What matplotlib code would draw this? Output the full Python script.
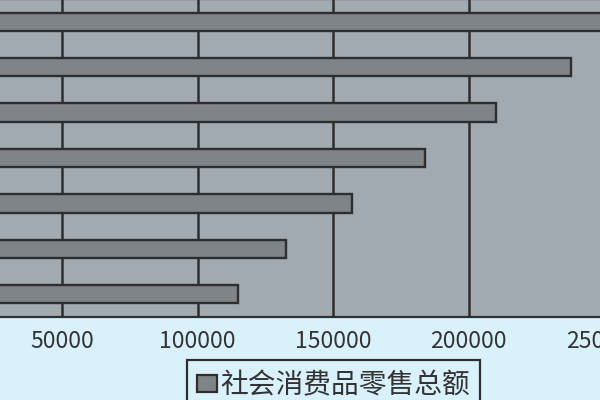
import matplotlib
matplotlib.use("Agg")
import matplotlib.pyplot as plt
from matplotlib.patches import Patch

plt.rcParams['font.family'] = ['Noto Sans CJK SC', 'DejaVu Sans']

years = ['2008', '2009', '2010', '2011', '2012', '2013', '2014']
retail = [114830, 132678, 156998, 183919, 210307, 237810, 262394]
xticks = [0, 50000, 100000, 150000, 200000, 250000, 300000]
series_name = '社会消费品零售总额'

bg = '#d9f1fb'
plot_bg = '#a2aab1'
bar_c = '#7f8488'
dark = '#2e2e2e'

fig = plt.figure(figsize=(6, 4), dpi=100, facecolor=bg)
# axes deliberately extends beyond figure (cropped look of the reference)
ax = fig.add_axes([-73.5/600, (400-317)/400, 813/600, 318/400])
ax.set_facecolor(plot_bg)
ypos = list(range(len(years)))
ax.barh(ypos, retail, height=0.4, color=bar_c, edgecolor=dark, linewidth=1.7, zorder=3)
ax.set_xlim(0, 300000)
ax.set_ylim(-0.5, len(years) - 0.5)
ax.set_yticks(ypos)
ax.set_yticklabels(years)
ax.set_xticks(xticks)
ax.set_xticklabels([str(v) for v in xticks])
ax.tick_params(axis='x', length=0, pad=9, labelsize=16.5, labelcolor='#333333')
ax.tick_params(axis='y', length=0, labelsize=16.5, labelcolor='#333333')
ax.xaxis.grid(True, color=dark, linewidth=1.8, zorder=1)
ax.set_axisbelow(True)
for s in ax.spines.values():
    s.set_color(dark)
    s.set_linewidth(1.6)

handle = Patch(facecolor=bar_c, edgecolor=dark, linewidth=1.6)
leg = fig.legend([handle], [series_name], loc='lower center',
                 bbox_to_anchor=(333.5/600, -0.025), frameon=True, fancybox=False,
                 edgecolor=dark, facecolor=bg, framealpha=1, fontsize=20,
                 handlelength=0.72, handleheight=0.58, handletextpad=0.12,
                 borderpad=0.36, borderaxespad=0.0)
leg.get_frame().set_linewidth(1.6)
for t in leg.get_texts():
    t.set_color('#333333')

fig.savefig('out.png', dpi=100, facecolor=bg)
